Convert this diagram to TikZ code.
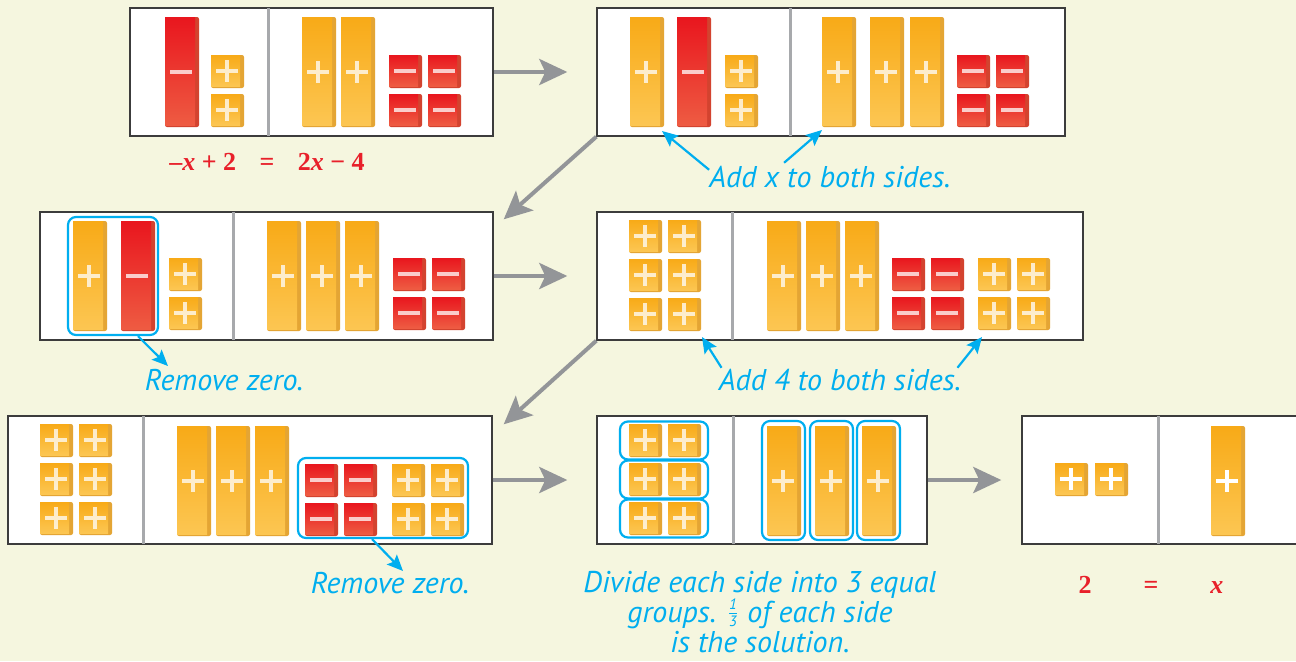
\documentclass[tikz,border=0pt]{standalone}
\usepackage{amsmath}
\usepackage{fontspec}
\usepackage{tikz}
\usepackage{xcolor}
\usetikzlibrary{
  positioning, arrows.meta, calc, fit,
}
\newfontfamily\notefont{PT Sans}
\newfontfamily\eqfont{Liberation Serif}
\definecolor{cBg}      {HTML}{F5F6DF}
\definecolor{cFrame}   {HTML}{3C3C3C}
\definecolor{cDivider} {HTML}{A7A9AC}
\definecolor{cArrow}   {HTML}{939598}
\definecolor{cNote}    {HTML}{00AEEF}
\definecolor{cEq}      {HTML}{E8202A}
\definecolor{cPosTop}  {HTML}{F8AA17}
\definecolor{cPosBot}  {HTML}{FCC652}
\definecolor{cPosEdge} {HTML}{E4A534}
\definecolor{cNegTop}  {HTML}{E9161E}
\definecolor{cNegBot}  {HTML}{EE5B42}
\definecolor{cNegEdge} {HTML}{D3432F}

\tikzset{
  panel/.style={draw=cFrame, fill=white, line width=0.7pt, inner sep=0pt},
  divider/.style={draw=cDivider, line width=1.5pt},
  sign/.style={draw=white, draw opacity=.75, line width=2.2pt},
  flow/.style={draw=cArrow, line width=2pt,
    -{Stealth[length=14pt, width=13pt, inset=3pt]}},
  pointer/.style={draw=cNote, line width=1.1pt,
    -{Stealth[length=8pt, width=7pt, inset=1.5pt]}},
  ring/.style={draw=cNote, line width=1.1pt, rounded corners=4pt, inner sep=0pt},
  note/.style={font=\notefont\itshape\fontsize{15}{15}\selectfont,
    text=cNote, inner sep=0pt},
  eqn/.style={font=\eqfont\bfseries\fontsize{13}{15}\selectfont,
    text=cEq, inner sep=0pt},
  % algebra tiles, origin = top left corner
  pics/upos/.style={code={
    \fill[cPosEdge, rounded corners=1pt] (0,0) rectangle (33,33);
    \shade[top color=cPosTop, bottom color=cPosBot] (0,0) rectangle (29,31);
    \draw[sign] (5,16) -- (27,16) (16,5) -- (16,27);
  }},
  pics/uneg/.style={code={
    \fill[cNegEdge, rounded corners=1pt] (0,0) rectangle (33,33);
    \shade[top color=cNegTop, bottom color=cNegBot] (0,0) rectangle (29,31);
    \draw[sign] (5,16) -- (27,16);
  }},
  pics/xpos/.style={code={
    \fill[cPosEdge, rounded corners=1pt] (0,0) rectangle (34,110);
    \shade[top color=cPosTop, bottom color=cPosBot] (0,0) rectangle (30,108);
    \draw[sign] (5,55) -- (27,55) (16,44) -- (16,66);
  }},
  pics/xneg/.style={code={
    \fill[cNegEdge, rounded corners=1pt] (0,0) rectangle (34,110);
    \shade[top color=cNegTop, bottom color=cNegBot] (0,0) rectangle (30,108);
    \draw[sign] (5,55) -- (27,55);
  }},
}

\begin{document}
\begin{tikzpicture}[x=0.5pt, y=-0.5pt]
  \fill[cBg] (0,0) rectangle (1296,661);
  \useasboundingbox (0,0) rectangle (1296,661);

  % step 1: -x + 2 = 2x - 4
  \node[panel, fit={(130,8) (493,136)}] (p1) {};
  \draw[divider] (268,8) -- (268,136);
  \pic at (165,17) {xneg};
  \foreach \y in {55,94} \pic at (211,\y) {upos};
  \foreach \x in {302,341} \pic at (\x,17) {xpos};
  \foreach \x in {389,428}
    \foreach \y in {55,94} \pic at (\x,\y) {uneg};
  \node[eqn] (eq1) at (267,162)
    {–\textit{x} + 2\hspace{0.9em}=\hspace{0.9em}2\textit{x} − 4};

  % step 2: add x
  \node[panel, fit={(597,8) (1065,136)}] (p2) {};
  \draw[divider] (790,8) -- (790,136);
  \pic at (630,17) {xpos};
  \pic at (677,17) {xneg};
  \foreach \y in {55,94} \pic at (725,\y) {upos};
  \foreach \x in {822,870,910} \pic at (\x,17) {xpos};
  \foreach \x in {957,996}
    \foreach \y in {55,94} \pic at (\x,\y) {uneg};
  \node[note] (addx) at (830,177) {Add x to both sides.};
  \coordinate (tA1) at (662,131);
  \coordinate (tA2) at (822,130);
  \draw[pointer] ($(addx.north west)+(0,4)$) -- (tA1);
  \draw[pointer] ($(addx.north west)+(75,-3)$) -- (tA2);

  % step 3: remove zero pair
  \node[panel, fit={(40,212) (493,340)}] (p3) {};
  \draw[divider] (233,212) -- (233,340);
  \pic at (73,221) {xpos};
  \pic at (121,221) {xneg};
  \foreach \y in {258,297} \pic at (169,\y) {upos};
  \foreach \x in {267,306,345} \pic at (\x,221) {xpos};
  \foreach \x in {393,432}
    \foreach \y in {258,297} \pic at (\x,\y) {uneg};
  \node[ring, fit={(68,217) (158,335)}] (hz1) {};
  \node[note] (rz1) at (224,380) {Remove zero.};
  \coordinate (tR1) at (168,366);
  \draw[pointer] ($(hz1.south)+(25,0)$) -- (tR1);

  % step 4: add 4
  \node[panel, fit={(597,212) (1083,340)}] (p4) {};
  \draw[divider] (732,212) -- (732,340);
  \foreach \x in {629,668}
    \foreach \y in {220,259,298} \pic at (\x,\y) {upos};
  \foreach \x in {767,806,845} \pic at (\x,221) {xpos};
  \foreach \x in {892,931}
    \foreach \y in {258,297} \pic at (\x,\y) {uneg};
  \foreach \x in {978,1017}
    \foreach \y in {258,297} \pic at (\x,\y) {upos};
  \node[note] (add4) at (840,380) {Add 4 to both sides.};
  \coordinate (t41) at (702,337);
  \coordinate (t42) at (982,337);
  \draw[pointer] ($(add4.north west)+(3,-1)$) -- (t41);
  \draw[pointer] ($(add4.north east)+(-4,-1)$) -- (t42);

  % step 5: remove zero pairs
  \node[panel, fit={(8,416) (492,544)}] (p5) {};
  \draw[divider] (143,416) -- (143,544);
  \foreach \x in {40,79}
    \foreach \y in {424,463,502} \pic at (\x,\y) {upos};
  \foreach \x in {177,216,255} \pic at (\x,426) {xpos};
  \foreach \x in {305,344}
    \foreach \y in {464,503} \pic at (\x,\y) {uneg};
  \foreach \x in {392,431}
    \foreach \y in {464,503} \pic at (\x,\y) {upos};
  \node[ring, fit={(298,458) (468,538)}] (hz2) {};
  \node[note] (rz2) at (390,583) {Remove zero.};
  \coordinate (tR2) at (403,571);
  \draw[pointer] ($(hz2.south)+(-11,0)$) -- (tR2);

  % step 6: three equal groups
  \node[panel, fit={(597,416) (927,544)}] (p6) {};
  \draw[divider] (733,416) -- (733,544);
  \foreach \y in {424,463,502}{
    \foreach \x in {629,668} \pic at (\x,\y) {upos};
    \draw[ring] (620,\y-2.5) rectangle (708,\y+35.5);
  }
  \foreach \x in {767,815,862}{
    \pic at (\x,426) {xpos};
    \draw[ring] (\x-5,421) rectangle (\x+38,540);
  }
  \node[note, align=center] (divide) at (760,612)
    {Divide each side into 3 equal\\
     groups. \smash{\raisebox{2pt}{$\scriptstyle\frac{\text{1}}{\text{3}}$}} of each side\\
     is the solution.};

  % step 7: solution
  \node[panel, fit={(1022,416) (1300,544)}] (p7) {};
  \draw[divider] (1158,416) -- (1158,544);
  \begin{scope}[sign/.style={draw=white, line width=1.6pt}]
    \foreach \x in {1055,1095} \pic at (\x,463) {upos};
    \pic at (1211,426) {xpos};
  \end{scope}
  \node[eqn] (eq2) at (1151,585) {2\hspace{2em}=\hspace{2em}\textit{x}};

  % flow between steps
  \draw[flow] (p1.east) -- ([xshift=-14.5pt]p2.west);
  \draw[flow] (p2.south west) -- ($(p3.north east)+(10,8)$);
  \draw[flow] (p3.east) -- ([xshift=-14.5pt]p4.west);
  \draw[flow] (p4.south west) -- ($(p5.north east)+(11,9)$);
  \draw[flow] (p5.east) -- ([xshift=-14.5pt]p6.west);
  \draw[flow] (p6.east) -- ([xshift=-10pt]p7.west);
\end{tikzpicture}
\end{document}
